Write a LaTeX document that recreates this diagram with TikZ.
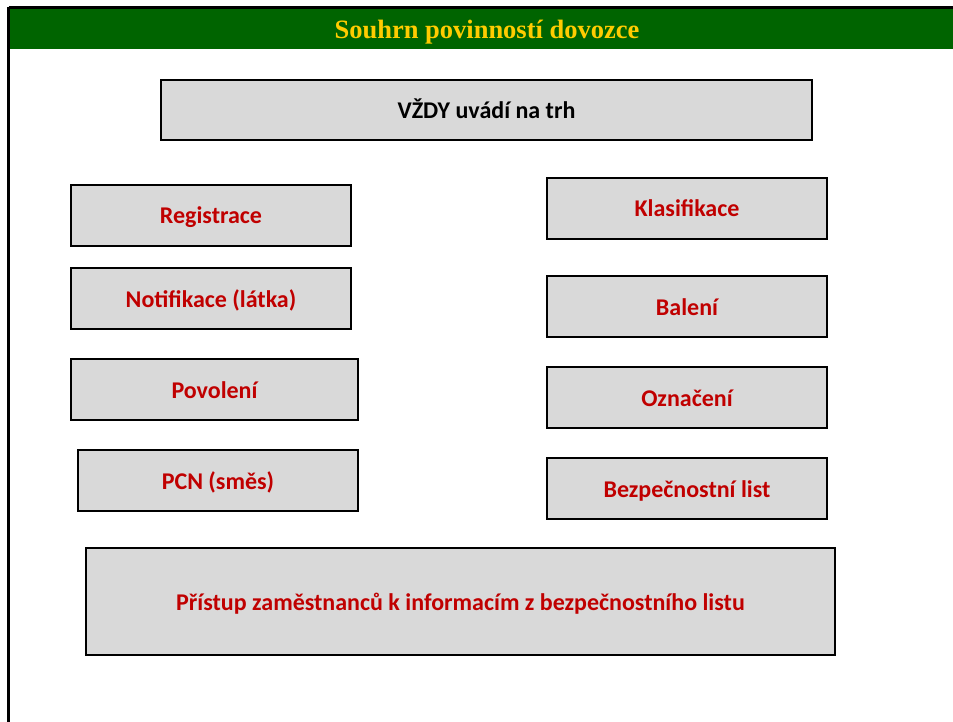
\documentclass[tikz,border=0pt]{standalone}
\usepackage{fontspec}
\setmainfont{Carlito}
\newfontfamily\titlefont{Liberation Serif}
\definecolor{bargreen}{RGB}{0,100,0}
\definecolor{titlegold}{RGB}{255,204,0}
\definecolor{boxgray}{RGB}{217,217,217}
\definecolor{dutyred}{RGB}{192,0,0}
\begin{document}
\begin{tikzpicture}[x=1pt,y=-1pt,
  dutybox/.style={draw=black,line width=2.7pt,fill=boxgray,inner sep=0pt,
    text height=17pt,text depth=0pt,
    font=\fontsize{24}{28}\selectfont\bfseries,text=dutyred},
]
\useasboundingbox (0,0) rectangle (953,722);
\fill[white] (0,0) rectangle (953,722);
% title bar
\fill[bargreen] (8,9) rectangle (953,49.5);
\draw[line width=3pt] (8.5,7.5) -- (953,7.5);
\draw[line width=3pt] (8.5,7.5) -- (8.5,722);
\node[text height=18pt,text depth=0pt] (title) at (487,30) {\titlefont\fontsize{26.5}{30}\selectfont\bfseries\color{titlegold}Souhrn povinností dovozce};
% boxes
\node[dutybox,text=black,minimum width=651pt,minimum height=60pt] (always) at (486.5,110) {VŽDY uvádí na trh};
\node[dutybox,minimum width=280pt,minimum height=61pt] (reg) at (211,215.5) {Registrace};
\node[dutybox,minimum width=280pt,minimum height=61pt] (notif) at (211,298.5) {Notifikace (látka)};
\node[dutybox,minimum width=287pt,minimum height=61pt] (perm) at (214.5,389.5) {Povolení};
\node[dutybox,minimum width=280pt,minimum height=61pt] (pcn) at (218,480.5) {PCN (směs)};
\node[dutybox,minimum width=280pt,minimum height=61pt] (class) at (687,208.5) {Klasifikace};
\node[dutybox,minimum width=280pt,minimum height=61pt] (pack) at (687,306.5) {Balení};
\node[dutybox,minimum width=280pt,minimum height=61pt] (label) at (687,397.5) {Označení};
\node[dutybox,minimum width=280pt,minimum height=61pt] (sds) at (687,488.5) {Bezpečnostní list};
\node[dutybox,minimum width=749pt,minimum height=107pt] (access) at (460.5,601.5) {Přístup zaměstnanců k informacím z bezpečnostního listu};
\end{tikzpicture}
\end{document}
